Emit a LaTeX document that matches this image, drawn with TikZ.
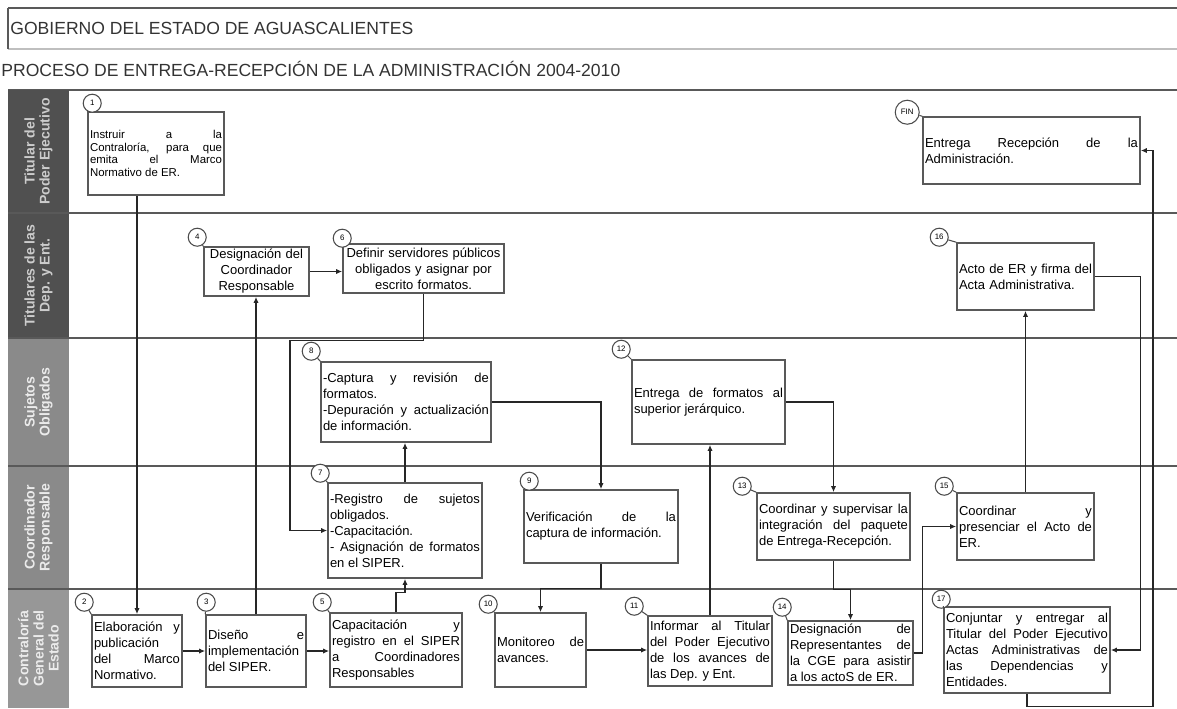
\documentclass[tikz,border=0pt]{standalone}
\usepackage{fontspec}
\setmainfont{Liberation Sans}
\usepackage{xcolor}
\usetikzlibrary{arrows.meta}

\definecolor{lanedark}{HTML}{505050}
\definecolor{lanemid}{HTML}{8A8A8A}
\definecolor{lanelight}{HTML}{979797}

\begin{document}
\begin{tikzpicture}[x=0.02cm, y=-0.02cm,
    task/.style={draw=black!65, line width=0.9pt, inner sep=0.04cm, align=justify,
      font=\fontsize{7.4}{9.1}\selectfont,
      execute at begin node={\hyphenpenalty=10000\exhyphenpenalty=10000\tolerance=10000}},
    num/.style={circle, draw=black!70, fill=white, line width=0.6pt, inner sep=0pt,
      minimum size=0.36cm, font=\fontsize{4.5}{5}\selectfont},
    flow/.style={-{Latex[length=3.5pt,width=3pt]}, line width=0.7pt, black!85},
    lane/.style={line width=1.3pt, black!65},
    lanelabel/.style={rotate=90, align=center, font=\bfseries\fontsize{8}{8.6}\selectfont}]

\useasboundingbox (0,0) rectangle (1177,708);

% Header
\draw[line width=1.6pt, black!65] (8,8) -- (1177,8);
\draw[line width=1.6pt, black!25] (8,49) -- (1177,49);
\draw[line width=1.6pt, black!65] (8,90) -- (1177,90);
\draw[line width=1pt, black!65] (8,8) -- (8,49);
\node[anchor=west, inner sep=0pt, font=\fontsize{10}{12}\selectfont, text=black!80] (gob) at (10,28) {GOBIERNO DEL ESTADO DE AGUASCALIENTES};
\node[anchor=west, inner sep=0pt, font=\fontsize{10}{12}\selectfont, text=black!80] (proc) at (1,69) {PROCESO DE ENTREGA-RECEPCIÓN DE LA ADMINISTRACIÓN 2004-2010};

% Lanes
\fill[lanedark] (8,90) rectangle (69,213);
\fill[lanedark] (8,213) rectangle (69,338);
\fill[lanemid] (8,338) rectangle (69,466);
\fill[lanemid] (8,466) rectangle (69,589);
\fill[lanelight] (8,589) rectangle (69,708);
\foreach \y in {213,338,466,589}
  \draw[lane] (8,\y) -- (1177,\y);
\node[lanelabel, text=black!20] (l1) at (38.5,151.5) {Titular del\\Poder Ejecutivo};
\node[lanelabel, text=black!20] (l2) at (38.5,275.5) {Titulares de las\\Dep. y Ent.};
\node[lanelabel, text=black!8] (l3) at (38.5,402) {Sujetos\\Obligados};
\node[lanelabel, text=black!8] (l4) at (38.5,527.5) {Coordinador\\Responsable};
\node[lanelabel, text=black!8] (l5) at (38.5,648.5) {Contraloría\\General del\\Estado};

% Titular del Poder Ejecutivo
\node[task, text width=2.64cm, minimum height=1.66cm, font=\fontsize{6.5}{7.1}\selectfont] (b1) at (156,153.5) {Instruir a la\linebreak Contraloría, para que\linebreak emita el Marco\linebreak Normativo de ER.};
\node[task, text width=4.26cm, minimum height=1.34cm] (bfin) at (1031.5,150.5) {Entrega Recepción de la\linebreak Administración.};

% Titulares de las Dep. y Ent.
\node[task, align=center, text width=2.02cm, minimum height=0.98cm] (b4) at (256.5,271.5) {Designación del\\Coordinador\\Responsable};
\node[task, align=center, text width=3.14cm, minimum height=0.98cm] (b6) at (423.5,268.5) {Definir servidores públicos\\obligados y asignar por\\escrito formatos.};
\node[task, align=left, text width=2.66cm, minimum height=1.34cm] (b16) at (1025.5,276.5) {Acto de ER y firma del\\Acta Administrativa.};

% Sujetos Obligados
\node[task, text width=3.32cm, minimum height=1.6cm] (b8) at (406,402) {-Captura y revisión de\linebreak formatos.\\-Depuración y actualización\linebreak de información.};
\node[task, text width=2.98cm, minimum height=1.68cm] (b12) at (708.5,402) {Entrega de formatos al\linebreak superior jerárquico.};

% Coordinador Responsable
\node[task, text width=3.0cm, minimum height=1.9cm] (b7) at (405,530.5) {-Registro de sujetos\linebreak obligados.\\-Capacitación.\\- Asignación de formatos\linebreak en el SIPER.};
\node[task, text width=3.0cm, minimum height=1.46cm] (b9) at (601,526.5) {Verificación de la\linebreak captura de información.};
\node[task, text width=2.98cm, minimum height=1.34cm] (b13) at (833.5,526.5) {Coordinar y supervisar la\linebreak integración del paquete\linebreak de Entrega-Recepción.};
\node[task, text width=2.66cm, minimum height=1.34cm] (b15) at (1025.5,526.5) {Coordinar y\linebreak presenciar el Acto de\linebreak ER.};

% Contraloria General del Estado
\node[task, text width=1.72cm, minimum height=1.44cm] (b2) at (137,651) {Elaboración y\linebreak publicación\\del Marco\linebreak Normativo.};
\node[task, text width=1.92cm, minimum height=1.44cm] (b3) at (256,651) {Diseño e\linebreak implementación\\del SIPER.};
\node[task, text width=2.56cm, minimum height=1.48cm] (b5) at (396,650) {Capacitación y\linebreak registro en el SIPER\linebreak a Coordinadores\linebreak Responsables};
\node[task, text width=1.74cm, minimum height=1.48cm] (b10) at (540.5,650) {Monitoreo de\linebreak avances.};
\node[task, text width=2.40cm, minimum height=1.40cm] (b11) at (710,651) {Informar al Titular\linebreak del Poder Ejecutivo\linebreak de los avances de\linebreak las Dep. y Ent.};
\node[task, text width=2.42cm, minimum height=1.28cm] (b14) at (850.5,653) {Designación de\linebreak Representantes de\linebreak la CGE para asistir\linebreak a los actoS de ER.};
\node[task, text width=3.24cm, minimum height=1.72cm] (b17) at (1027,650) {Conjuntar y entregar al\linebreak Titular del Poder Ejecutivo\linebreak Actas Administrativas de\linebreak las Dependencias y\linebreak Entidades.};

% Step numbers
\node[num] (c1) at ([shift={(5,-8)}]b1.north west) {1};
\node[num] (c2) at ([shift={(-7,-12)}]b2.north west) {2};
\node[num] (c3) at ([shift={(1,-12)}]b3.north west) {3};
\node[num] (c4) at ([shift={(-6,-9)}]b4.north west) {4};
\node[num] (c5) at ([shift={(-7,-10)}]b5.north west) {5};
\node[num] (c6) at ([shift={(0,-5)}]b6.north west) {6};
\node[num] (c7) at ([shift={(-7,-9)}]b7.north west) {7};
\node[num] (c8) at ([shift={(-9,-10)}]b8.north west) {8};
\node[num] (c9) at ([shift={(6,-8)}]b9.north west) {9};
\node[num] (c10) at ([shift={(-6,-8)}]b10.north west) {10};
\node[num] (c11) at ([shift={(-13,-9)}]b11.north west) {11};
\node[num] (c12) at ([shift={(-10,-10)}]b12.north west) {12};
\node[num] (c13) at ([shift={(-14,-6)}]b13.north west) {13};
\node[num] (c14) at ([shift={(-5,-13)}]b14.north west) {14};
\node[num] (c15) at ([shift={(-12,-6)}]b15.north west) {15};
\node[num] (c16) at ([shift={(-17,-5)}]b16.north west) {16};
\node[num] (c17) at ([shift={(-2,-7)}]b17.north west) {17};
\node[num, minimum size=0.48cm] (cfin) at ([shift={(-15,-4)}]bfin.north west) {FIN};
\foreach \n in {1,2,3,4,5,7,8,9,10,11,12,13,14,15,16,17,fin}
  \draw[black!70, line width=0.6pt] (b\n.north west) -- (c\n);

% Flow
\draw[flow] (b1.south -| b2.north) -- (b2.north);
\draw[flow] (b2) -- (b3);
\draw[flow] (b3.east) -- (b3.east -| b5.west);
\draw[flow] (b3.north) -- (b3.north |- b4.south);
\draw[flow] (b4.east) -- (b4.east -| b6.west);
\draw[flow] (b6.south) -- ++(0,47) -- ++(-133.5,0) |- (b7.west);
\draw[flow] (b5.north) -- ++(0,-20) -| (b7.south);
\draw[flow] (b7.north) -- (b7.north |- b8.south);
\draw[flow] (b8.east) -| (b9.north);
\draw[flow] (b9.south) -- ++(0,25) -| (b10.north);
\draw[flow] (b10.east) -- (b10.east -| b11.west);
\draw[flow] (b11.north) -- (b11.north |- b12.south);
\draw[flow] (b12.east) -| (b13.north);
\draw[flow] (b13.south) -- ++(0,29) -| (b14.north);
\draw[flow] (b14.east) -- ++(9,0) |- (b15.west);
\draw[flow] (b15.north) -- (b15.north |- b16.south);
\draw[flow] (b16.east) -- ++(46,0) |- (b17.east);
\draw[flow] (b17.south) -- ++(0,13) -- ++(126,0) |- (bfin.east);
\end{tikzpicture}
\end{document}
